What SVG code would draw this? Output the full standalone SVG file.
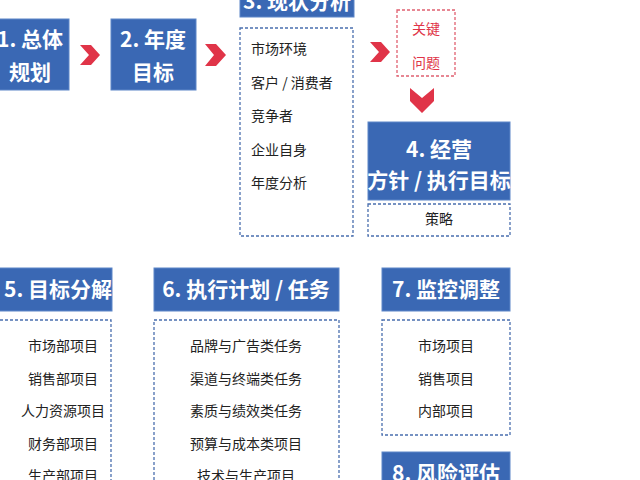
<svg xmlns="http://www.w3.org/2000/svg" width="640" height="480" viewBox="0 0 640 480">
<style>
.b{fill:#3a68b4;stroke:#5d86c8;stroke-width:1}
.d{fill:#fff;stroke:#4a6fae;stroke-width:1.3;stroke-dasharray:3 2}
.h{font-family:"Noto Sans CJK SC","Liberation Sans",sans-serif;font-weight:bold;fill:#fff;font-size:21px;text-anchor:middle}
.t{font-family:"Noto Sans CJK SC","Liberation Sans",sans-serif;fill:#222;font-size:14px}
.c{text-anchor:middle}
.a{fill:#e03448}
</style>
<rect width="640" height="480" fill="#fff"/>
<g id="n1"><rect class="b" x="-10" y="19" width="79" height="71"/><text class="h" x="30" y="47">1. 总体</text><text class="h" x="30" y="80">规划</text></g>
<g id="n2"><rect class="b" x="111" y="19" width="85" height="71"/><text class="h" x="153" y="47">2. 年度</text><text class="h" x="153" y="80">目标</text></g>
<g id="n3"><rect class="b" x="240" y="-30" width="114" height="47"/><text class="h" x="297" y="9">3. 现状分析</text>
<rect class="d" x="240" y="28" width="113" height="208"/>
<text class="t" x="251" y="54">市场环境</text><text class="t" x="251" y="88">客户 / 消费者</text><text class="t" x="251" y="121">竞争者</text><text class="t" x="251" y="155">企业自身</text><text class="t" x="251" y="188">年度分析</text></g>
<g id="key"><rect x="397" y="10" width="58" height="66" fill="#fff" stroke="#e06070" stroke-width="1.3" stroke-dasharray="3 2"/><text class="t c" x="426" y="34" fill="#e03448" style="fill:#e03448">关键</text><text class="t c" x="426" y="68" style="fill:#e03448">问题</text></g>
<g id="n4"><rect class="b" x="368" y="122" width="142" height="78"/><text class="h" x="439" y="157">4. 经营</text><text class="h" x="439" y="188">方针 / 执行目标</text>
<rect class="d" x="368" y="204" width="142" height="32"/><text class="t c" x="439" y="224">策略</text></g>
<g id="n5"><rect class="b" x="-10" y="268" width="122" height="43"/><text class="h" x="58" y="297">5. 目标分解</text>
<rect class="d" x="-10" y="320" width="121" height="180"/>
<g class="t c"><text class="t c" x="63" y="351">市场部项目</text><text class="t c" x="63" y="384">销售部项目</text><text class="t c" x="63" y="416">人力资源项目</text><text class="t c" x="63" y="449">财务部项目</text><text class="t c" x="63" y="481">生产部项目</text></g></g>
<g id="n6"><rect class="b" x="154" y="268" width="185" height="43"/><text class="h" x="246" y="297">6. 执行计划 / 任务</text>
<rect class="d" x="154" y="320" width="185" height="180"/>
<text class="t c" x="246" y="351">品牌与广告类任务</text><text class="t c" x="246" y="384">渠道与终端类任务</text><text class="t c" x="246" y="416">素质与绩效类任务</text><text class="t c" x="246" y="449">预算与成本类项目</text><text class="t c" x="246" y="481">技术与生产项目</text></g>
<g id="n7"><rect class="b" x="382" y="268" width="128" height="43"/><text class="h" x="446" y="297">7. 监控调整</text>
<rect class="d" x="382" y="320" width="128" height="115"/>
<text class="t c" x="446" y="351">市场项目</text><text class="t c" x="446" y="384">销售项目</text><text class="t c" x="446" y="416">内部项目</text></g>
<g id="n8"><rect class="b" x="382" y="452" width="128" height="60"/><text class="h" x="446" y="481">8. 风险评估</text></g>
<g id="connectors">
<polygon class="a" points="80,45 91,45 100,55 91,65 80,65 89,55"/>
<polygon class="a" points="205,44 216,44 226,55 216,66 205,66 214,55"/>
<polygon class="a" points="370,42 381,42 390,52 381,62 370,62 379,52"/>
<polygon class="a" points="410,88 422,98 434,88 434,101 422,113 410,101"/>
</g>
</svg>
